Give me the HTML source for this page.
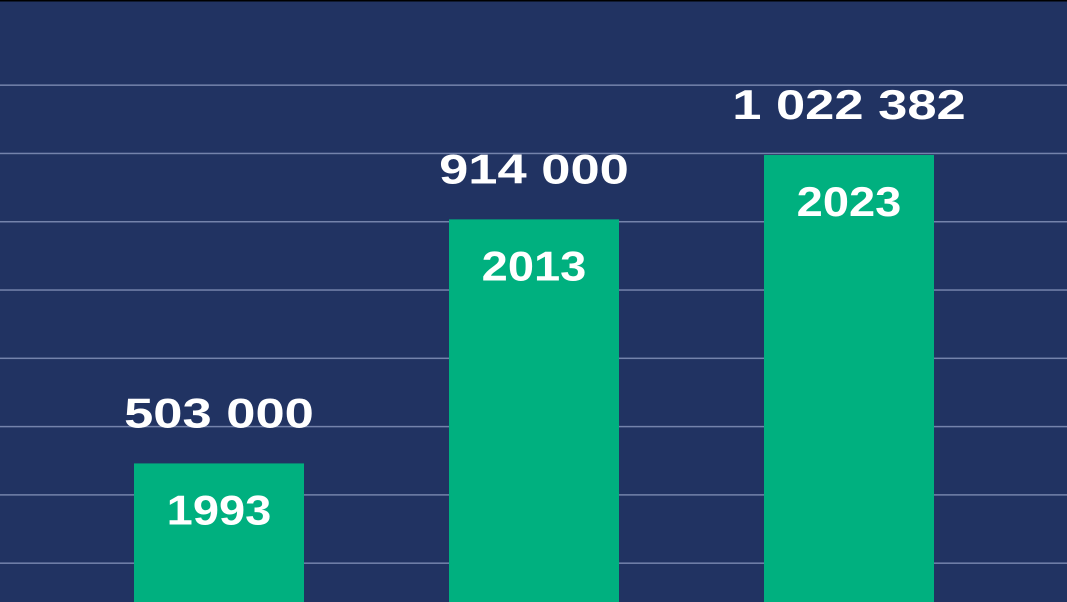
<!DOCTYPE html>
<html><head><meta charset="utf-8">
<style>
html,body{margin:0;padding:0;background:#213362;overflow:hidden;}
svg{display:block;overflow:hidden;}
text{font-family:"Liberation Sans",sans-serif;font-weight:bold;fill:#fff;}
</style></head>
<body>
<svg width="1067" height="602" viewBox="0 0 1067 602">
<rect x="0" y="0" width="1067" height="602" fill="#213362"/>
<rect x="0" y="0" width="1067" height="1.5" fill="#000"/>
<g id="grid"></g>
<g id="bars"></g>
</svg>
<script>
const categories = ["1993", "2013", "2023"];
const values = [503000, 914000, 1022382];
const valueLabels = ["503 000", "914 000", "1 022 382"];
const gridValues = [1140000, 1025000, 910000, 795000, 680000, 565000, 450000, 335000];

const NS = "http://www.w3.org/2000/svg";
function yScale(v){ return 762.1 - v * 0.0005938; }
const barX0 = 134, barStep = 315, barW = 170;
function xScale(i){ return barX0 + i * barStep; }

const grid = document.getElementById('grid');
gridValues.forEach(g => {
  const l = document.createElementNS(NS, 'rect');
  
  
  l.setAttribute('x', 0);
  l.setAttribute('y', yScale(g) - 0.75);
  l.setAttribute('width', 1067);
  l.setAttribute('height', 1.5);
  l.setAttribute('fill', '#7483ab');
  grid.appendChild(l);
});

function stretch(t, factor){
  const w = t.getComputedTextLength();
  t.setAttribute('textLength', w * factor);
  t.setAttribute('lengthAdjust', 'spacingAndGlyphs');
}

const bars = document.getElementById('bars');
values.forEach((v, i) => {
  const x = xScale(i), y = yScale(v);
  const r = document.createElementNS(NS, 'rect');
  
  
  r.setAttribute('x', x);
  r.setAttribute('y', y);
  r.setAttribute('width', barW);
  r.setAttribute('height', Math.max(0, 602 - y));
  r.setAttribute('fill', '#00b07f');
  bars.appendChild(r);

  const t = document.createElementNS(NS, 'text');
  
  
  t.setAttribute('x', x + barW / 2);
  t.setAttribute('y', y + 61);
  t.setAttribute('text-anchor', 'middle');
  t.setAttribute('font-size', '42');
  t.textContent = categories[i];
  bars.appendChild(t);
  stretch(t, 1.12);

  const vt = document.createElementNS(NS, 'text');
  
  
  vt.setAttribute('x', x + barW / 2);
  vt.setAttribute('y', y - 36);
  vt.setAttribute('text-anchor', 'middle');
  vt.setAttribute('font-size', '42');
  vt.textContent = valueLabels[i];
  bars.appendChild(vt);
  stretch(vt, 1.25);
});
</script>
</body></html>
